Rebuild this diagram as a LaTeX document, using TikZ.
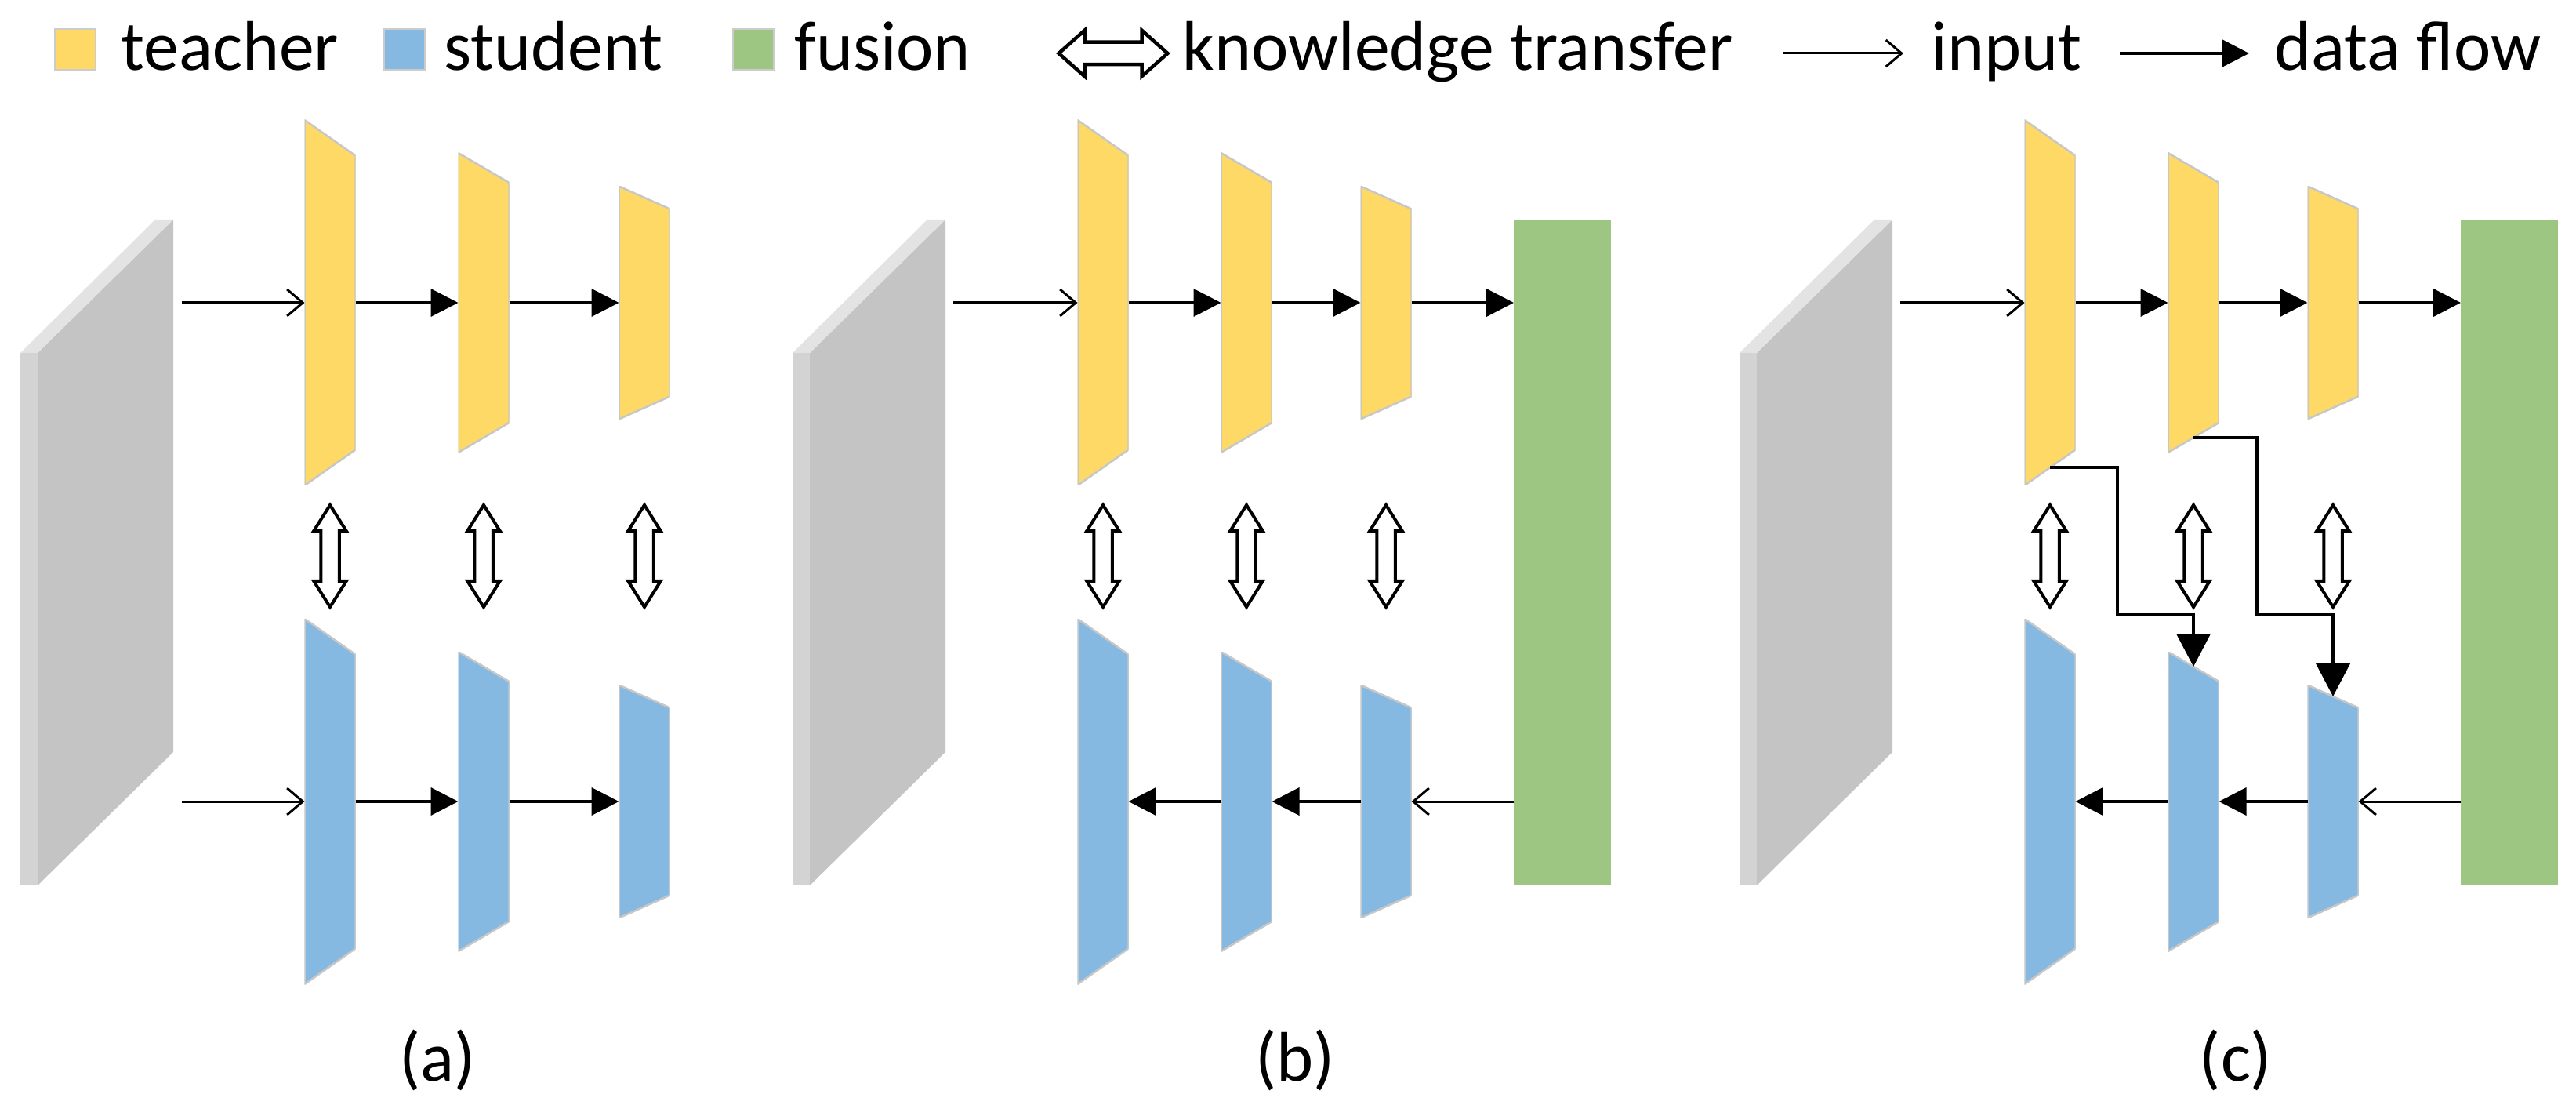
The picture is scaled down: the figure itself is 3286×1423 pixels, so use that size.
\documentclass[tikz,border=0pt]{standalone}
\usepackage{fontspec}
\setmainfont{Carlito}
\usetikzlibrary{arrows.meta,calc}

\definecolor{teacher}{HTML}{FFD966}
\definecolor{student}{HTML}{85B9E1}
\definecolor{fusion}{HTML}{9CC681}
\definecolor{platefront}{HTML}{C4C4C4}
\definecolor{plateside}{HTML}{D3D3D3}
\definecolor{platetop}{HTML}{E3E3E3}

\tikzset{
	layer/.style n args={3}{inner sep=0pt, outer sep=0pt, minimum width=6.5mm, minimum height=#1,
		path picture={\fill[#3, draw=black!22, line width=0.25mm]
			(path picture bounding box.north west) -- ([yshift=-#2]path picture bounding box.north east)
			-- ([yshift=#2]path picture bounding box.south east) -- (path picture bounding box.south west) -- cycle;}},
	l1/.style={layer={46.6mm}{4.55mm}{#1}},
	l2/.style={layer={38.2mm}{3.8mm}{#1}},
	l3/.style={layer={29.7mm}{2.9mm}{#1}},
	plate/.style={inner sep=0pt, outer sep=0pt, minimum width=17.3mm, minimum height=84.9mm,
		path picture={\fill[platefront] (path picture bounding box.south west)
			-- ([yshift=-17mm]path picture bounding box.north west) -- (path picture bounding box.north east)
			-- ([yshift=17mm]path picture bounding box.south east) -- cycle;}},
	fus/.style={fill=fusion, inner sep=0pt, outer sep=0pt, minimum width=12.4mm, minimum height=84.7mm},
	ktline/.style={draw, fill=white, line width=0.4mm},
	ktv/.pic={\draw[ktline] (0,-65) -- (20.75,-32) -- (11.75,-32) -- (11.75,32) -- (20.75,32) -- (0,65)
		-- (-20.75,32) -- (-11.75,32) -- (-11.75,-32) -- (-20.75,-32) -- cycle;},
	kth/.pic={\draw[ktline, line width=0.45mm] (-69.5,0) -- (-36.5,-29.25) -- (-36.5,-14.25) -- (36.5,-14.25) -- (36.5,-29.25) -- (69.5,0)
		-- (36.5,29.25) -- (36.5,14.25) -- (-36.5,14.25) -- (-36.5,29.25) -- cycle;},
	legbox/.style={fill=#1, draw=black!20, line width=0.2mm, inner sep=0pt, minimum size=5.2mm},
	legtext/.style={inner sep=0pt, anchor=base west},
	inp/.style={line width=0.3mm, -{Straight Barb[length=2mm,width=3.4mm]}},
	flow/.style={line width=0.4mm, -{Triangle[length=3.5mm,width=3.5mm]}},
	bigflow/.style={line width=0.42mm, -{Triangle[length=4.2mm,width=4.3mm]}},
}

\begin{document}
\begin{tikzpicture}[x=0.1mm, y=-0.1mm, font=\fontsize{25.5pt}{30pt}\selectfont]
	\useasboundingbox (0,0) rectangle (3286,1423);

	% Legend
	\node[legbox=teacher] (key-t) at (96,63) {};
	\node[legtext] (txt-t) at (154,90) {teacher};
	\node[legbox=student] (key-s) at (516,63) {};
	\node[legtext] (txt-s) at (566,90) {student};
	\node[legbox=fusion] (key-f) at (961,63) {};
	\node[legtext] (txt-f) at (1013,90) {fusion};
	\pic (key-k) at (1420,68) {kth};
	\node[legtext] (txt-k) at (1508,90) {knowledge transfer};
	\coordinate (in0) at (2274,68);
	\coordinate (in1) at (2428,68);
	\draw[inp] (in0) -- (in1);
	\node[legtext] (txt-i) at (2463,90) {input};
	\coordinate (df0) at (2704,68);
	\coordinate (df1) at (2869,68);
	\draw[flow] (df0) -- (df1);
	\node[legtext] (txt-d) at (2901,90) {data flow};

	% Input images
	\node[plate] (imga) at (134.5,704.5) {};
	\node[plate] (imgb) at (1119.5,704.5) {};
	\node[plate] (imgc) at (2327.5,704.5) {};
	\fill[plateside] ([xshift=-2.2mm]imga.south west) rectangle ([yshift=-17mm]imga.north west);
	\fill[platetop] ([xshift=-2.2mm,yshift=-17mm]imga.north west) -- ([yshift=-17mm]imga.north west) -- (imga.north east) -- ([xshift=-2.3mm]imga.north east) -- cycle;
	\fill[plateside] ([xshift=-2.2mm]imgb.south west) rectangle ([yshift=-17mm]imgb.north west);
	\fill[platetop] ([xshift=-2.2mm,yshift=-17mm]imgb.north west) -- ([yshift=-17mm]imgb.north west) -- (imgb.north east) -- ([xshift=-2.3mm]imgb.north east) -- cycle;
	\fill[plateside] ([xshift=-2.2mm]imgc.south west) rectangle ([yshift=-17mm]imgc.north west);
	\fill[platetop] ([xshift=-2.2mm,yshift=-17mm]imgc.north west) -- ([yshift=-17mm]imgc.north west) -- (imgc.north east) -- ([xshift=-2.3mm]imgc.north east) -- cycle;

	% (a)
	\node[l1=teacher] (ta1) at (421,386) {};
	\node[l2=teacher] (ta2) at (617,386) {};
	\node[l3=teacher] (ta3) at (822,386) {};
	\node[l1=student] (sa1) at (421,1022) {};
	\node[l2=student] (sa2) at (617,1022) {};
	\node[l3=student] (sa3) at (822,1022) {};
	\pic (kta1) at ($(ta1)!0.5!(sa1)+(0,5)$) {ktv};
	\pic (kta2) at ($(ta2)!0.5!(sa2)+(0,5)$) {ktv};
	\pic (kta3) at ($(ta3)!0.5!(sa3)+(0,5)$) {ktv};
	\draw[inp, shorten <=1.1mm] (imga.east |- ta1) -- (ta1);
	\draw[inp, shorten <=1.1mm] (imga.east |- sa1) -- (sa1);
	\draw[flow] (ta1) -- (ta2);
	\draw[flow] (ta2) -- (ta3);
	\draw[flow] (sa1) -- (sa2);
	\draw[flow] (sa2) -- (sa3);
	\node[legtext, anchor=base] (cap-a) at (558,1378) {(a)};

	% (b)
	\node[l1=teacher] (tb1) at (1407,386) {};
	\node[l2=teacher] (tb2) at (1590,386) {};
	\node[l3=teacher] (tb3) at (1768,386) {};
	\node[l1=student] (sb1) at (1407,1022) {};
	\node[l2=student] (sb2) at (1590,1022) {};
	\node[l3=student] (sb3) at (1768,1022) {};
	\node[fus] (fusb) at (1993,704.5) {};
	\pic (ktb1) at ($(tb1)!0.5!(sb1)+(0,5)$) {ktv};
	\pic (ktb2) at ($(tb2)!0.5!(sb2)+(0,5)$) {ktv};
	\pic (ktb3) at ($(tb3)!0.5!(sb3)+(0,5)$) {ktv};
	\draw[inp, shorten <=1mm] (imgb.east |- tb1) -- (tb1);
	\draw[flow] (tb1) -- (tb2);
	\draw[flow] (tb2) -- (tb3);
	\draw[flow] (tb3) -- (fusb.west |- tb3);
	\draw[inp] (fusb.west |- sb3) -- (sb3);
	\draw[flow] (sb3) -- (sb2);
	\draw[flow] (sb2) -- (sb1);
	\node[legtext, anchor=base] (cap-b) at (1652,1378) {(b)};

	% (c)
	\node[l1=teacher] (tc1) at (2615,386) {};
	\node[l2=teacher] (tc2) at (2798,386) {};
	\node[l3=teacher] (tc3) at (2976,386) {};
	\node[l1=student] (sc1) at (2615,1022) {};
	\node[l2=student] (sc2) at (2798,1022) {};
	\node[l3=student] (sc3) at (2976,1022) {};
	\node[fus] (fusc) at (3201,704.5) {};
	\pic (ktc1) at ($(tc1)!0.5!(sc1)+(0,5)$) {ktv};
	\pic (ktc2) at ($(tc2)!0.5!(sc2)+(0,5)$) {ktv};
	\pic (ktc3) at ($(tc3)!0.5!(sc3)+(0,5)$) {ktv};
	\draw[inp, shorten <=1mm] (imgc.east |- tc1) -- (tc1);
	\draw[flow] (tc1) -- (tc2);
	\draw[flow] (tc2) -- (tc3);
	\draw[flow] (tc3) -- (fusc.west |- tc3);
	\draw[inp] (fusc.west |- sc3) -- (sc3);
	\draw[flow] (sc3) -- (sc2);
	\draw[flow] (sc2) -- (sc1);
	\draw[bigflow] ($(tc1.south)+(0,-23)$) -- ++(86,0) -- ++(0,188) -| ($(sc2.north)+(0,19)$);
	\draw[bigflow] ($(tc2.south)+(0,-19)$) -- ++(81,0) -- ++(0,226) -| ($(sc3.north)+(0,14.5)$);
	\node[legtext, anchor=base] (cap-c) at (2852,1378) {(c)};
\end{tikzpicture}
\end{document}
